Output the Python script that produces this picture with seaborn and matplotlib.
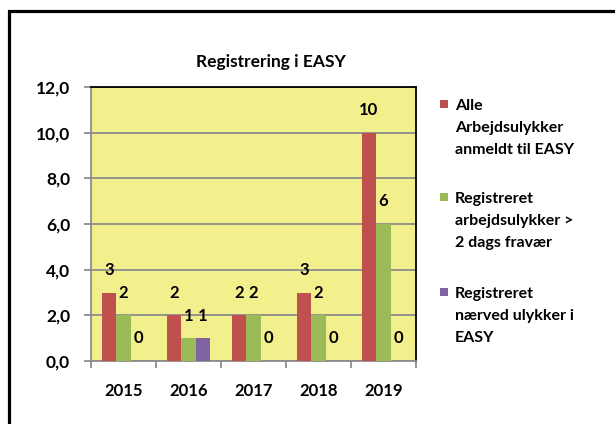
import matplotlib
matplotlib.use("Agg")
import matplotlib.pyplot as plt
from matplotlib.patches import Rectangle
from matplotlib.ticker import FuncFormatter, FixedLocator
import seaborn as sns
import pandas as pd

years = ["2015", "2016", "2017", "2018", "2019"]
series_names = [
    "Alle\nArbejdsulykker\nanmeldt til EASY",
    "Registreret\narbejdsulykker >\n2 dags fravær",
    "Registreret\nnærved ulykker i\nEASY",
]
alle = [3, 2, 2, 3, 10]
fravaer = [2, 1, 2, 2, 6]
naerved = [0, 1, 0, 0, 0]
colors = ["#C0504D", "#9BBB59", "#8064A2"]
title = "Registrering i EASY"

sns.set_theme(style="white")
plt.rcParams["font.family"] = ["Lato", "DejaVu Sans"]
plt.rcParams["font.weight"] = "bold"

rows = []
for name, vals in zip(series_names, [alle, fravaer, naerved]):
    for y, v in zip(years, vals):
        rows.append({"year": y, "series": name, "value": v})
df = pd.DataFrame(rows)

W, H = 615, 424
fig = plt.figure(figsize=(W / 100, H / 100), dpi=100)
fig.patch.set_facecolor("white")
ax = fig.add_axes([91 / W, 1 - 361 / H, (416 - 91) / W, (361 - 87) / H])
ax.set_facecolor("#F2F08C")

sns.barplot(data=df, x="year", y="value", hue="series", hue_order=series_names,
            palette=colors, width=0.67, saturation=1, legend=False, ax=ax,
            linewidth=0, zorder=3)

ax.set_ylim(0, 12)
ax.set_xlim(-0.5, 4.5)
ax.set_yticks(range(0, 13, 2))
ax.yaxis.set_major_formatter(FuncFormatter(lambda v, p: f"{v:.1f}".replace(".", ",")))
ax.grid(axis="y", color="#8C8C8C", linewidth=1.3, zorder=1)
ax.set_axisbelow(True)
ax.set_xlabel("")
ax.set_ylabel("")

ax.xaxis.set_minor_locator(FixedLocator([i - 0.5 for i in range(6)]))
ax.tick_params(axis="x", which="major", length=0, pad=15.5, labelsize=12, labelcolor="black")
ax.tick_params(axis="x", which="minor", length=5, width=1.3, color="#8C8C8C", direction="out")
ax.tick_params(axis="y", length=5, width=1.3, color="#8C8C8C", direction="out", pad=10,
               labelsize=12.5, labelcolor="black")
ax.tick_params(left=True, bottom=True, which="both")
for lab in ax.get_xticklabels() + ax.get_yticklabels():
    lab.set_fontweight("bold")

for side in ["left", "bottom"]:
    ax.spines[side].set_color("#8C8C8C")
    ax.spines[side].set_linewidth(1.3)
for side in ["top", "right"]:
    ax.spines[side].set_color("black")
    ax.spines[side].set_linewidth(1.3)

for cont in ax.containers:
    ax.bar_label(cont, fmt="%d", padding=10.5, fontsize=12, fontweight="bold", color="black")

fig.text(271 / W, 1 - 62 / H, title, ha="center", va="center", fontsize=12.5,
         fontweight="bold", color="black")

# legend
tops = [99, 192, 287]
for name, c, t in zip(series_names, colors, tops):
    fig.add_artist(Rectangle((440 / W, 1 - (t + 9) / H), 8 / W, 8 / H,
                             transform=fig.transFigure, facecolor=c, edgecolor="none"))
    fig.text(455 / W, 1 - t / H, name, ha="left", va="top", fontsize=11.5,
             fontweight="bold", color="black", linespacing=1.72)

# outer frame (cropped on right/bottom)
fig.add_artist(Rectangle((9 / W, -0.1), 1.2, 1 - 11 / H + 0.1, transform=fig.transFigure,
                         facecolor="none", edgecolor="black", linewidth=2.3, clip_on=False))

fig.savefig("out.png", dpi=100)
